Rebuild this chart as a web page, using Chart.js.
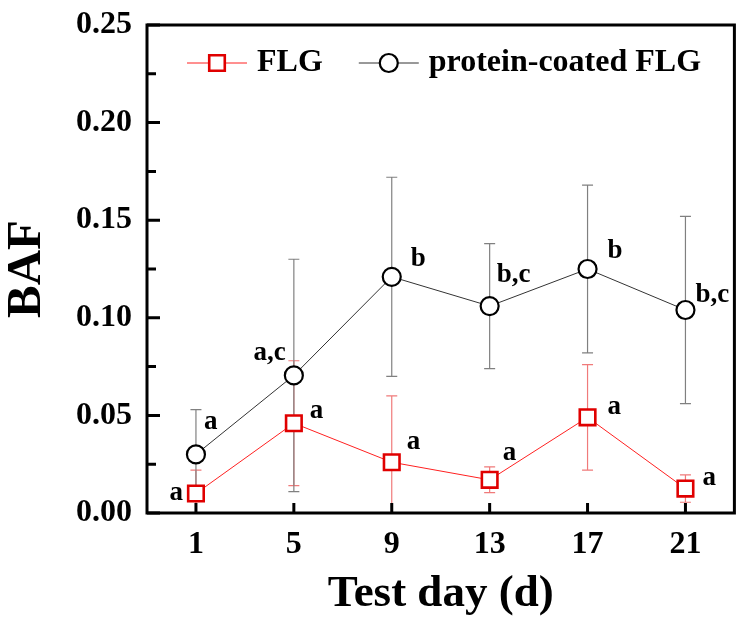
<!DOCTYPE html>
<html><head><meta charset="utf-8">
<script src="https://cdn.jsdelivr.net/npm/chart.js@4/dist/chart.umd.min.js"></script>
<style>html,body{margin:0;padding:0;background:#fff}#wrap{width:748px;height:628px}</style>
</head><body><div id="wrap"><canvas id="c" width="748" height="628"></canvas></div>
<script>
// ---- data ----
const days = [1, 5, 9, 13, 17, 21];
const flgMean = [0.010, 0.046, 0.026, 0.017, 0.049, 0.0125];
const flgErr = [0.012, 0.032, 0.034, 0.0066, 0.027, 0.007];
const flgLetters = ['a', 'a', 'a', 'a', 'a', 'a'];
const pcMean = [0.030, 0.0705, 0.121, 0.106, 0.125, 0.104];
const pcErr = [0.023, 0.0595, 0.051, 0.032, 0.043, 0.048];
const pcLetters = ['a', 'a,c', 'b', 'b,c', 'b', 'b,c'];
const xTicks = [1, 5, 9, 13, 17, 21];
const yTicks = [0, 0.05, 0.10, 0.15, 0.20, 0.25];
const yMinorTicks = [0.025, 0.075, 0.125, 0.175, 0.225];

// ---- style (positions of letter labels relative to their point) ----
const FONT = "'Liberation Serif', 'Times New Roman', serif";
const flgLetterOffsets = [[-13, 0, 'right'], [16, -12, 'left'], [15, -20, 'left'], [13, -27, 'left'], [20, -10, 'left'], [17, -11, 'left']];
const pcLetterOffsets = [[8, -32, 'left'], [-8, -22, 'right'], [19, -18, 'left'], [7, -31, 'left'], [20, -18, 'left'], [10, -15, 'left']];

const toPts = (xs, ys) => xs.map((x, i) => ({x: x, y: ys[i]}));

const errorBars = {
  id: 'errorBars',
  beforeDatasetsDraw(chart) {
    const ctx = chart.ctx, ca = chart.chartArea;
    const xs = chart.scales.x, ys = chart.scales.y;
    ctx.save();
    ctx.beginPath(); ctx.rect(ca.left, ca.top, ca.right - ca.left, ca.bottom - ca.top); ctx.clip();
    chart.data.datasets.forEach(ds => {
      ctx.strokeStyle = ds.errColor; ctx.lineWidth = 1.2;
      ds.data.forEach((p, i) => {
        const e = ds.err[i];
        const px = xs.getPixelForValue(p.x);
        const yt = ys.getPixelForValue(p.y + e), yb = ys.getPixelForValue(p.y - e);
        ctx.beginPath();
        ctx.moveTo(px, yt); ctx.lineTo(px, yb);
        ctx.moveTo(px - 5.5, yt); ctx.lineTo(px + 5.5, yt);
        ctx.moveTo(px - 5.5, yb); ctx.lineTo(px + 5.5, yb);
        ctx.stroke();
      });
    });
    ctx.restore();
  }
};

const frameAndTicks = {
  id: 'frameAndTicks',
  afterDraw(chart) {
    const ctx = chart.ctx, ca = chart.chartArea;
    const xs = chart.scales.x, ys = chart.scales.y;
    ctx.save();
    ctx.strokeStyle = '#000'; ctx.lineWidth = 3;
    ctx.beginPath();
    xTicks.forEach(v => { const px = xs.getPixelForValue(v); ctx.moveTo(px, ca.bottom); ctx.lineTo(px, ca.bottom - 10); });
    yTicks.forEach(v => { const py = ys.getPixelForValue(v); ctx.moveTo(ca.left, py); ctx.lineTo(ca.left + 13, py); });
    yMinorTicks.forEach(v => { const py = ys.getPixelForValue(v); ctx.moveTo(ca.left, py); ctx.lineTo(ca.left + 9, py); });
    ctx.stroke();
    ctx.strokeRect(ca.left, ca.top, ca.right - ca.left, ca.bottom - ca.top);
    ctx.restore();
  }
};

const letters = {
  id: 'letters',
  afterDatasetsDraw(chart) {
    const ctx = chart.ctx;
    ctx.save();
    ctx.fillStyle = '#000';
    ctx.font = 'bold 27px ' + FONT;
    ctx.textBaseline = 'middle';
    chart.data.datasets.forEach((ds, di) => {
      const meta = chart.getDatasetMeta(di);
      meta.data.forEach((el, i) => {
        const o = ds.letterOffsets[i];
        ctx.textAlign = o[2];
        ctx.fillText(ds.letters[i], el.x + o[0], el.y + o[1]);
      });
    });
    ctx.restore();
  }
};

const customLegend = {
  id: 'customLegend',
  afterDraw(chart) {
    const ctx = chart.ctx, ca = chart.chartArea;
    const y = ca.top + 38;
    let x = ca.left + 40;
    ctx.save();
    ctx.font = 'bold 32px ' + FONT;
    ctx.textBaseline = 'middle'; ctx.textAlign = 'left';
    chart.data.datasets.forEach(ds => {
      ctx.strokeStyle = ds.borderColor; ctx.lineWidth = 1;
      ctx.beginPath(); ctx.moveTo(x, y); ctx.lineTo(x + 60, y); ctx.stroke();
      ctx.lineWidth = ds.pointBorderWidth; ctx.strokeStyle = ds.pointBorderColor; ctx.fillStyle = '#fff';
      Chart.helpers.drawPoint(ctx, {pointStyle: ds.pointStyle, radius: ds.pointRadius, borderWidth: ds.pointBorderWidth, rotation: 0}, x + 30, y);
      ctx.fillStyle = '#000';
      ctx.fillText(ds.label, x + 70, y);
      x += 70 + ctx.measureText(ds.label).width + 36;
    });
    ctx.restore();
  }
};

const zeroPad = s => { s.paddingTop = 0; s.paddingBottom = 0; s.paddingLeft = 0; s.paddingRight = 0; };

new Chart(document.getElementById('c'), {
  type: 'line',
  data: {
    datasets: [
      {
        label: 'FLG', data: toPts(days, flgMean), err: flgErr, letters: flgLetters, letterOffsets: flgLetterOffsets,
        borderColor: '#ff2020', borderWidth: 1, errColor: '#f07a7a',
        pointStyle: 'rect', pointRadius: 11, pointBorderWidth: 2.6, pointBorderColor: '#e00000', pointBackgroundColor: '#fff',
        order: 0
      },
      {
        label: 'protein-coated FLG', data: toPts(days, pcMean), err: pcErr, letters: pcLetters, letterOffsets: pcLetterOffsets,
        borderColor: '#333', borderWidth: 1, errColor: '#808080',
        pointStyle: 'circle', pointRadius: 9, pointBorderWidth: 2.2, pointBorderColor: '#000', pointBackgroundColor: '#fff',
        order: 1
      }
    ]
  },
  options: {
    responsive: false, animation: false, devicePixelRatio: 1,
    layout: {padding: {left: 0, right: 11, top: 25, bottom: 0}},
    plugins: {legend: {display: false}, tooltip: {enabled: false}},
    scales: {
      x: {
        type: 'linear', min: -1, max: 23,
        afterBuildTicks: s => { s.ticks = xTicks.map(v => ({value: v})); },
        afterFit: s => { s.height = 115; zeroPad(s); },
        grid: {display: false, drawTicks: false}, border: {display: false},
        ticks: {color: '#000', padding: 13, font: {family: FONT, size: 32, weight: 'bold'}, callback: v => String(v), maxRotation: 0, autoSkip: false},
        title: {display: true, text: 'Test day (d)', color: '#000', font: {family: FONT, size: 45, weight: 'bold'}, padding: {top: 0, bottom: 7}}
      },
      y: {
        type: 'linear', min: 0, max: 0.25,
        afterBuildTicks: s => { s.ticks = yTicks.map(v => ({value: v})); },
        afterFit: s => { s.width = 147; zeroPad(s); },
        grid: {display: false, drawTicks: false}, border: {display: false},
        ticks: {color: '#000', padding: 15, font: {family: FONT, size: 32, weight: 'bold'}, callback: v => Number(v).toFixed(2)},
        title: {display: true, text: 'BAF', color: '#000', font: {family: FONT, size: 49, weight: 'bold', lineHeight: 1.1}, padding: 0}
      }
    }
  },
  plugins: [errorBars, letters, frameAndTicks, customLegend]
});
</script></body></html>
